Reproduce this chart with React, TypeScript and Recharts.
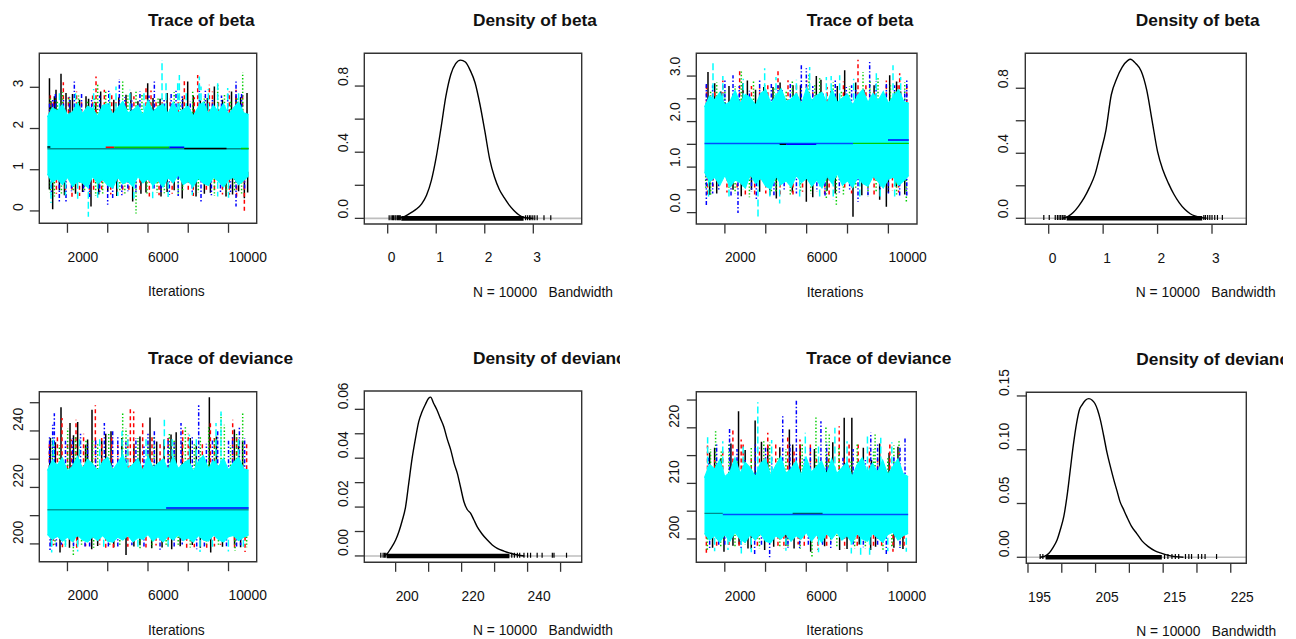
import React from "react";
import {
  Area,
  ComposedChart,
  Line,
  ReferenceArea,
  ReferenceLine,
  Scatter,
  XAxis,
  YAxis,
} from "recharts";

const FONT = '"Liberation Sans", Arial, Helvetica, sans-serif';
const INK = "#111111";
const FRAME = "#333333";

// chain colours / line types as R draws them (col 1:5, lty 1:5)
const chainColors = ["#000000", "#ff0000", "#00cd00", "#0000ff", "#00ffff"];
const chainDash = [undefined, "4 3", "1.4 2", "1.4 2 4 2", "7 3"];

const traceTicks = [2000, 4000, 6000, 8000, 10000];
const traceTickLabels = [2000, 6000, 10000];

// ---- Trace of beta (left) : [iteration, lo, hi] of the solid cyan band
const betaABand = [
  [1001, 0.9, 2.28], [1250, 0.7, 2.5], [1500, 0.78, 2.43], [1750, 0.64, 2.58], [2000, 0.82, 2.32],
  [2250, 0.6, 2.4], [2500, 0.72, 2.62], [2750, 0.68, 2.36], [3000, 0.58, 2.54], [3250, 0.84, 2.48],
  [3500, 0.66, 2.3], [3750, 0.76, 2.56], [4000, 0.62, 2.6], [4250, 0.56, 2.34], [4500, 0.82, 2.5],
  [4750, 0.66, 2.66], [5000, 0.72, 2.38], [5250, 0.6, 2.44], [5500, 0.84, 2.56], [5750, 0.68, 2.32],
  [6000, 0.78, 2.68], [6250, 0.62, 2.4], [6500, 0.74, 2.52], [6750, 0.58, 2.58], [7000, 0.82, 2.36],
  [7250, 0.68, 2.64], [7500, 0.88, 2.38], [7750, 0.64, 2.46], [8000, 0.72, 2.54], [8250, 0.59, 2.3],
  [8500, 0.8, 2.52], [8750, 0.67, 2.64], [9000, 0.62, 2.36], [9250, 0.82, 2.56], [9500, 0.72, 2.4],
  [9750, 0.58, 2.6], [10000, 0.76, 2.34], [10250, 0.82, 2.5], [10500, 0.64, 2.64], [10750, 0.74, 2.38],
  [11000, 0.86, 2.34],
];
// excursions outside the band per chain: [iteration, value]
const betaABlack = [
  [1106, 3.22], [1431, 2.94], [1679, 3.33], [1927, 2.86], [2126, 2.69], [2921, 2.78], [4908, 2.82],
  [5985, 3.1], [7723, 2.73], [7972, 3.14], [9297, 3.02], [10373, 2.78], [10919, 2.86], [1180, 2.66],
  [2600, 2.7], [3400, 2.64], [4300, 2.7], [5500, 2.66], [6600, 2.72], [8600, 2.68], [9700, 2.7],
  [1350, 2.78], [2250, 2.84], [3050, 2.72], [3650, 2.9], [4550, 2.76], [5150, 2.88], [6250, 2.74],
  [6950, 2.86], [8250, 2.8], [8950, 2.74], [10150, 2.9], [10600, 2.76],
  [1265, 0.04], [3169, 0.11], [5239, 0.23], [6647, 0.35], [8386, 0.35], [9876, 0.35], [10787, 0.31],
  [1600, 0.5], [2400, 0.42], [4000, 0.48], [5900, 0.45], [7300, 0.5], [9100, 0.44], [10500, 0.48],
  [1100, 0.52], [1850, 0.38], [2750, 0.46], [3550, 0.4], [4450, 0.36], [5650, 0.42], [6950, 0.46],
  [7700, 0.3], [8800, 0.42], [10200, 0.4], [10950, 0.45],
];
const betaARed = [
  [1795, 3.12], [3418, 3.26], [3832, 2.94], [4411, 2.69], [5902, 3.02], [7806, 3.22], [8469, 3.3],
  [9048, 3.06], [10042, 2.9], [10373, 2.94], [1300, 2.7], [2700, 2.66], [4900, 2.72], [6400, 2.68],
  [7100, 2.72], [9500, 2.66], [1150, 2.84], [2050, 2.76], [2450, 2.9], [3250, 2.8], [4200, 2.86],
  [5300, 2.78], [6150, 2.92], [6700, 2.74], [7500, 2.84], [8300, 2.76], [9200, 2.9], [10700, 2.8],
  [3087, 0.35], [2225, 0.27], [4743, 0.43], [10042, 0.39], [10787, -0.02], [6067, 0.35], [1900, 0.5],
  [3700, 0.52], [5600, 0.46], [8000, 0.48], [9300, 0.5], [1450, 0.42], [2600, 0.36], [3300, 0.48],
  [4150, 0.4], [5050, 0.44], [6550, 0.38], [7200, 0.42], [8250, 0.36], [8900, 0.46], [9700, 0.4],
  [10400, 0.34],
];
const betaAGreen = [
  [2093, 2.78], [3501, 3.06], [4743, 3.18], [5405, 2.94], [8220, 2.94], [9462, 3.1], [10704, 3.36],
  [1500, 2.7], [3000, 2.68], [4100, 2.66], [6100, 2.7], [7600, 2.64], [10100, 2.7], [1150, 2.76],
  [1750, 2.88], [2550, 2.8], [3350, 2.74], [3900, 2.9], [5000, 2.8], [5700, 2.86], [6500, 2.76],
  [7300, 2.88], [8800, 2.78], [9800, 2.84], [10450, 2.74],
  [5405, -0.06], [3749, 0.39], [7723, 0.47], [1348, 0.35], [6813, 0.43], [2300, 0.48], [4600, 0.5],
  [8500, 0.45], [10300, 0.5], [1150, 0.44], [1700, 0.4], [2850, 0.46], [3400, 0.36], [4850, 0.42],
  [5950, 0.38], [6450, 0.44], [7500, 0.4], [9300, 0.36], [9900, 0.44], [10650, 0.4],
];
const betaABlue = [
  [1265, 2.69], [2341, 3.14], [4577, 3.2], [6316, 3.14], [7392, 2.94], [8551, 3.06], [9959, 2.86],
  [10373, 3.14], [1110, 2.6], [1800, 2.7], [3200, 2.72], [5200, 2.68], [6800, 2.7], [8100, 2.66],
  [9200, 2.72], [1400, 2.84], [2100, 2.76], [2700, 2.88], [3600, 2.8], [4050, 2.92], [4850, 2.76],
  [5600, 2.9], [6050, 2.8], [7150, 2.86], [7700, 2.78], [8850, 2.92], [9650, 2.8], [10650, 2.86],
  [1596, 0.23], [3997, 0.15], [4246, 0.31], [8634, 0.19], [10373, 0.11], [7061, 0.39], [1927, 0.19],
  [2800, 0.45], [5000, 0.48], [6300, 0.5], [9600, 0.46], [10800, 0.5], [1200, 0.4], [2200, 0.48],
  [3100, 0.34], [3600, 0.44], [4700, 0.38], [5400, 0.46], [6650, 0.42], [7500, 0.36], [8200, 0.44],
  [9150, 0.38], [10100, 0.46],
];
const betaACyan = [
  [6697, 3.66], [4411, 3.02], [6895, 3.1], [7475, 3.14], [7558, 3.3], [8634, 3.02], [8551, 3.26],
  [9462, 3.1], [9959, 2.98], [1600, 2.92], [2400, 2.86], [3300, 2.96], [4100, 2.9], [5100, 2.94],
  [5800, 2.88], [7900, 2.92], [9000, 2.96], [10500, 2.9],
  [3037, -0.14], [1182, 0.19], [2507, 0.27], [6233, 0.31], [9462, 0.35], [1900, 0.38], [3500, 0.32],
  [4500, 0.36], [5300, 0.3], [7000, 0.34], [8200, 0.38], [10000, 0.32],
];
// smoothed chain lines: [chain, from, to, value, opacity]
const betaASmooth = [
  [0, 1001, 11000, 1.51, 0.45], [0, 1001, 1150, 1.55, 1], [1, 3900, 4330, 1.546, 1],
  [2, 4330, 7060, 1.546, 1], [3, 7060, 7800, 1.546, 1], [0, 7800, 9900, 1.515, 1],
  [2, 10620, 11000, 1.515, 1],
];

// ---- Trace of deviance (left)
const devABand = [
  [1001, 203.4, 226.0], [1250, 201.6, 229.5], [1500, 202.8, 227.9], [1750, 201.0, 230.5],
  [2000, 202.4, 225.7], [2250, 200.8, 227.5], [2500, 203.2, 231.0], [2750, 201.4, 226.7],
  [3000, 200.7, 229.9], [3250, 202.6, 228.3], [3500, 201.2, 225.9], [3750, 203.0, 229.1],
  [4000, 201.0, 230.7], [4250, 200.6, 226.1], [4500, 202.4, 228.7], [4750, 201.4, 231.5],
  [5000, 203.0, 226.5], [5250, 200.8, 228.1], [5500, 202.2, 230.1], [5750, 201.6, 225.9],
  [6000, 203.4, 231.1], [6250, 201.0, 226.9], [6500, 202.6, 228.5], [6750, 200.7, 230.1],
  [7000, 202.8, 226.3], [7250, 201.4, 230.9], [7500, 203.2, 226.7], [7750, 201.2, 228.3],
  [8000, 202.2, 229.7], [8250, 200.6, 225.7], [8500, 203.0, 229.1], [8750, 201.4, 231.3],
  [9000, 201.0, 226.5], [9250, 203.2, 229.5], [9500, 201.6, 227.3], [9750, 200.7, 230.3],
  [10000, 202.6, 226.1], [10250, 203.0, 228.9], [10500, 201.2, 230.7], [10750, 202.4, 226.5],
  [11000, 203.2, 226.1],
];
const devABlack = [
  [1120, 234.0], [1679, 248.4], [2126, 242.8], [2507, 243.2], [3219, 247.5], [4163, 239.9],
  [6100, 244.8], [6432, 236.3], [7144, 238.7], [9048, 251.9], [10290, 240.5], [1400, 236],
  [2900, 235], [3700, 236.5], [5300, 235.5], [7700, 236], [8400, 235], [10700, 236.5],
  [1150, 237.5], [2300, 238.5], [3000, 237], [3900, 239], [4700, 237.5], [5600, 238], [6800, 237],
  [7400, 239.5], [8100, 237.5], [9400, 238], [10500, 237],
  [1630, 197.0], [4909, 196.1], [7177, 198.1], [9115, 197.0], [3203, 198.1], [6184, 198.5],
  [2500, 199.8], [5600, 199.5], [8200, 199.6], [10300, 199.8], [1200, 199.2], [2100, 198.6],
  [3500, 199.3], [4300, 198.8], [5300, 199.1], [6700, 198.7], [7600, 199.2], [8600, 198.6],
  [9700, 199], [10600, 198.8],
];
const devARed = [
  [1729, 244.6], [2424, 244.0], [3385, 249.1], [5123, 248.4], [5289, 246.9], [5736, 243.4],
  [7723, 241.0], [9098, 243.4], [10207, 244.0], [1100, 235.5], [2000, 236], [4500, 235],
  [6600, 236], [8700, 235.5], [10900, 236], [1500, 238], [2200, 237], [2800, 239], [3700, 237.5],
  [4200, 238.5], [5000, 237], [6200, 238.5], [7000, 237.5], [8000, 239], [9300, 237.5],
  [10400, 238.5],
  [4279, 198.1], [10821, 197.1], [8916, 197.9], [2458, 198.5], [7922, 198.5], [1300, 199.5],
  [3600, 199.8], [6400, 199.4], [9600, 199.7], [1750, 198.8], [2900, 199.2], [3900, 198.6],
  [5000, 199], [5900, 198.7], [7000, 199.2], [8300, 198.8], [9300, 199.1], [10300, 198.6],
];
const devAGreen = [
  [2010, 241.0], [2921, 236.9], [4743, 246.9], [4908, 241.0], [7061, 239.3], [7856, 241.6],
  [9015, 241.3], [9628, 245.8], [9793, 242.2], [10704, 246.9], [1600, 235], [3500, 236],
  [6000, 235.5], [8300, 236], [10100, 235], [1250, 237.5], [2400, 238.5], [3250, 237],
  [4050, 239], [5500, 237.5], [6300, 238], [7300, 237], [8600, 238.5], [9300, 237.5], [10400, 239],
  [2292, 196.1], [10324, 197.6], [5604, 198.5], [1381, 199.1], [4100, 199.6], [7500, 199.5],
  [8900, 199.8], [1900, 198.9], [2700, 199.3], [3300, 198.6], [4600, 199], [6200, 198.8],
  [6900, 199.2], [8100, 198.7], [9500, 199.1], [10900, 198.8],
];
const devABlue = [
  [1265, 242.2], [1348, 246.3], [3832, 242.8], [4246, 240.4], [6316, 240.4], [7640, 242.8],
  [8518, 249.1], [9462, 239.9], [10539, 241.6], [1900, 236.5], [3000, 235.5], [4900, 236],
  [5800, 235], [7300, 236], [8900, 235.5], [10000, 236.5], [1110, 238], [2250, 237.5],
  [2650, 239], [3400, 237], [4500, 238.5], [5400, 237.5], [6000, 239], [7000, 237.5], [8200, 238],
  [9200, 237], [10200, 238.5], [10800, 237.5],
  [1133, 197.4], [4031, 198.5], [6598, 197.9], [8419, 198.1], [2872, 199.1], [1700, 199.7],
  [5200, 199.5], [7700, 199.8], [10600, 199.5], [1450, 198.8], [2300, 199.2], [3100, 198.7],
  [4500, 199], [5800, 198.6], [7300, 199.1], [8800, 198.8], [9900, 199.2], [10400, 198.6],
];
const devACyan = [
  [4709, 239.9], [5902, 237.5], [6813, 244.0], [8055, 238.7], [9379, 242.8], [9628, 246.9],
  [1300, 237], [2600, 238], [3600, 237.5], [5000, 238.5], [7200, 238], [8400, 237.5], [10500, 238],
  [1216, 197.0], [2507, 197.3], [8585, 197.1], [9993, 197.3], [10738, 197.9], [1900, 198.5],
  [3800, 198.2], [5500, 198.6], [7000, 198.4], [9200, 198.6],
];
const devASmooth = [
  [0, 1001, 11000, 212.1, 0.4], [3, 6900, 11000, 212.7, 1],
];

// ---- Trace of beta (right)
const betaBBand = [
  [1001, 0.9, 2.32], [1250, 0.68, 2.56], [1500, 0.78, 2.48], [1750, 0.6, 2.64], [2000, 0.82, 2.36],
  [2250, 0.56, 2.44], [2500, 0.72, 2.68], [2750, 0.66, 2.4], [3000, 0.54, 2.6], [3250, 0.84, 2.52],
  [3500, 0.64, 2.36], [3750, 0.76, 2.62], [4000, 0.58, 2.7], [4250, 0.52, 2.4], [4500, 0.8, 2.56],
  [4750, 0.62, 2.72], [5000, 0.7, 2.44], [5250, 0.56, 2.5], [5500, 0.82, 2.62], [5750, 0.66, 2.38],
  [6000, 0.76, 2.74], [6250, 0.58, 2.46], [6500, 0.72, 2.58], [6750, 0.54, 2.64], [7000, 0.8, 2.4],
  [7250, 0.64, 2.7], [7500, 0.86, 2.42], [7750, 0.6, 2.52], [8000, 0.7, 2.6], [8250, 0.55, 2.36],
  [8500, 0.78, 2.58], [8750, 0.64, 2.7], [9000, 0.58, 2.42], [9250, 0.8, 2.62], [9500, 0.68, 2.46],
  [9750, 0.54, 2.66], [10000, 0.74, 2.4], [10250, 0.78, 2.56], [10500, 0.6, 2.7], [10750, 0.7, 2.44],
  [11000, 0.82, 2.4],
];
const betaBBlack = [
  [1173, 3.09], [2886, 2.84], [4354, 2.76], [5333, 2.8], [6474, 3.0], [7861, 3.13], [10063, 3.02],
  [1800, 2.66], [3500, 2.7], [6000, 2.64], [7200, 2.68], [8800, 2.7], [10600, 2.66], [1500, 2.84],
  [2200, 2.78], [3100, 2.9], [3900, 2.76], [4700, 2.86], [5700, 2.8], [6700, 2.92], [7500, 2.78],
  [8400, 2.86], [9300, 2.8], [10400, 2.88],
  [1255, 0.39], [2397, 0.5], [4517, 0.31], [5985, 0.24], [8268, -0.09], [9573, 0.28], [9900, 0.13],
  [10389, 0.57], [3300, 0.5], [7000, 0.48], [1600, 0.42], [2800, 0.36], [3700, 0.46], [4200, 0.38],
  [5300, 0.44], [6300, 0.34], [7400, 0.42], [8700, 0.38], [10000, 0.44], [10800, 0.4],
];
const betaBRed = [
  [2723, 3.17], [3702, 2.73], [4599, 3.13], [5088, 2.91], [7290, 2.62], [8513, 3.36], [10470, 2.87],
  [10552, 3.06], [1500, 2.68], [6300, 2.66], [9300, 2.7], [1100, 2.8], [1900, 2.9], [3300, 2.78],
  [4100, 2.86], [5500, 2.8], [6000, 2.9], [7000, 2.76], [7800, 2.88], [8900, 2.8], [9900, 2.9],
  [10900, 2.78],
  [1418, 0.57], [3457, 0.35], [5333, 0.35], [6882, 0.41], [7861, 0.5], [2600, 0.52], [9000, 0.5],
  [10200, 0.48], [1150, 0.4], [2100, 0.44], [3000, 0.36], [4000, 0.42], [4700, 0.38], [5800, 0.46],
  [7100, 0.36], [8200, 0.42], [9300, 0.38], [10500, 0.44],
];
const betaBGreen = [
  [2804, 3.13], [3946, 2.84], [6115, 3.06], [6637, 2.98], [8758, 3.09], [9492, 2.98], [1300, 2.7],
  [2000, 2.66], [5000, 2.68], [7700, 2.7], [10300, 2.66], [1600, 2.86], [2500, 2.78], [3400, 2.88],
  [4400, 2.76], [5300, 2.9], [6400, 2.8], [7300, 2.86], [8100, 2.78], [9100, 2.92], [10100, 2.8],
  [10800, 2.86],
  [1060, 0.5], [4272, 0.43], [6964, 0.31], [7453, 0.13], [9002, 0.35], [10878, 0.2], [2200, 0.5],
  [5700, 0.48], [8400, 0.5], [1300, 0.38], [2500, 0.42], [3200, 0.34], [4500, 0.44], [5200, 0.38],
  [6200, 0.42], [7800, 0.36], [9400, 0.44], [10400, 0.38],
];
const betaBBlue = [
  [1092, 2.87], [2397, 3.02], [4272, 2.87], [5740, 3.28], [5985, 3.17], [7942, 2.76], [9084, 3.31],
  [9900, 2.84], [3200, 2.68], [4800, 2.7], [6800, 2.66], [8400, 2.72], [10800, 2.68], [1400, 2.8],
  [2000, 2.9], [2700, 2.78], [3700, 2.92], [4600, 2.8], [5200, 2.86], [6300, 2.78], [7400, 2.9],
  [8200, 2.8], [9400, 2.88], [10300, 2.8], [10900, 2.9],
  [1092, 0.17], [2641, -0.01], [3539, 0.28], [8105, 0.5], [8513, 0.24], [10552, 0.35], [1700, 0.48],
  [4900, 0.5], [6500, 0.46], [9600, 0.48], [1400, 0.42], [2300, 0.36], [3300, 0.46], [4400, 0.38],
  [5500, 0.42], [6900, 0.36], [7600, 0.44], [9000, 0.38], [10000, 0.42], [10900, 0.36],
];
const betaBCyan = [
  [1418, 3.35], [3946, 3.17], [6148, 3.2], [6964, 2.98], [7616, 3.02], [9410, 3.13], [10226, 3.24],
  [1900, 3.0], [2900, 2.94], [4500, 2.98], [5500, 2.92], [7200, 3.0], [8300, 2.94], [10600, 2.98],
  [2886, 0.5], [3620, -0.09], [4680, 0.2], [5659, 0.35], [6637, 0.31], [10307, 0.35], [1200, 0.34],
  [2200, 0.3], [4200, 0.32], [7300, 0.28], [8600, 0.34], [9600, 0.3],
];
const betaBSmooth = [
  [3, 1001, 8270, 1.52, 0.7], [0, 4680, 5010, 1.5, 1], [3, 5010, 6470, 1.5, 1],
  [2, 8270, 11000, 1.522, 1], [3, 9980, 11000, 1.594, 1],
];

// ---- Trace of deviance (right)
const devBBand = [
  [1001, 201.0, 211.0], [1250, 199.8, 213.4], [1500, 200.6, 212.6], [1750, 199.4, 214.2],
  [2000, 200.8, 211.2], [2250, 199.6, 212.0], [2500, 201.2, 214.6], [2750, 200.0, 211.8],
  [3000, 199.4, 213.8], [3250, 200.8, 212.8], [3500, 199.8, 211.2], [3750, 201.0, 213.6],
  [4000, 199.6, 214.4], [4250, 199.3, 211.4], [4500, 200.6, 213.2], [4750, 200.0, 214.8],
  [5000, 201.0, 211.8], [5250, 199.6, 212.6], [5500, 200.6, 214.0], [5750, 200.0, 211.4],
  [6000, 201.2, 214.6], [6250, 199.6, 212.0], [6500, 200.8, 213.0], [6750, 199.4, 214.0],
  [7000, 201.0, 211.6], [7250, 200.0, 214.4], [7500, 201.2, 211.8], [7750, 199.8, 212.8],
  [8000, 200.6, 213.8], [8250, 199.3, 211.2], [8500, 201.0, 213.4], [8750, 200.0, 214.6],
  [9000, 199.6, 211.8], [9250, 201.0, 213.6], [9500, 200.2, 212.0], [9750, 199.4, 214.2],
  [10000, 200.8, 211.6], [10250, 201.2, 213.0], [10500, 199.8, 214.4], [10750, 200.6, 211.8],
  [11000, 201.0, 211.2],
];
const devBBlack = [
  [1255, 215.5], [2674, 223.0], [3489, 221.3], [4109, 216.7], [5169, 219.7], [5333, 217.0],
  [7861, 221.8], [8236, 221.8], [10063, 215.5], [1800, 214.5], [6000, 214], [7000, 214.8],
  [9200, 214.2], [1500, 216.4], [2300, 217.2], [3000, 216], [3800, 217.5], [4700, 216.5],
  [5700, 217], [6400, 216.2], [7300, 217.4], [8800, 216.4], [9600, 217.2], [10500, 216.6],
  [1960, 197.7], [3138, 198.3], [3956, 198.0], [6214, 197.7], [7637, 198.0], [9158, 198.0],
  [10745, 198.2], [2700, 199], [5000, 198.8], [8600, 199], [1400, 198.4], [2400, 198.8],
  [3300, 198.2], [4400, 198.6], [5400, 198.3], [6900, 198.7], [8000, 198.2], [9400, 198.6],
  [10300, 198.4],
];
const devBRed = [
  [2397, 220.0], [2804, 217.9], [4109, 219.1], [5088, 218.5], [5691, 217.9], [7616, 220.3],
  [7861, 214.6], [8546, 217.0], [10552, 216.4], [1500, 214.2], [3300, 214.8], [6500, 214.4],
  [9500, 214.6], [1150, 216.8], [1900, 216], [2900, 217.4], [3700, 216.4], [4500, 217],
  [5400, 216.2], [6200, 217.2], [7100, 216.4], [8100, 217], [9100, 216.4], [10100, 217.3],
  [1094, 197.4], [4610, 198.3], [6574, 198.0], [7882, 198.2], [10255, 197.7], [2200, 198.9],
  [5600, 199], [9300, 198.8], [1600, 198.6], [2700, 198.3], [3600, 198.7], [4900, 198.2],
  [5900, 198.6], [7000, 198.4], [8500, 198.7], [9700, 198.3], [10800, 198.6],
];
const devBGreen = [
  [1549, 219.4], [1826, 215.8], [3914, 217.9], [6474, 222.1], [6964, 220.3], [7127, 218.8],
  [9378, 219.1], [10552, 217.9], [2600, 214.4], [4600, 214.8], [8200, 214.2], [10000, 214.6],
  [1300, 216.2], [2200, 217], [3300, 216.4], [4200, 217.4], [5000, 216.2], [5800, 217],
  [7600, 216.6], [8500, 217.3], [9300, 216.2], [10300, 216.8],
  [1142, 198.0], [5101, 198.6], [6279, 196.8], [8373, 198.3], [9764, 198.0], [3000, 198.9],
  [7200, 199], [10600, 198.8], [1800, 198.4], [2500, 198.7], [3700, 198.3], [4700, 198.6],
  [5700, 198.2], [7500, 198.6], [8900, 198.3], [10200, 198.6],
];
const devBBlue = [
  [2234, 219.8], [4843, 222.4], [5512, 225.2], [6719, 221.2], [9166, 219.1], [10846, 218.3],
  [1200, 214.6], [3000, 214.2], [4300, 214.8], [5900, 214.4], [7800, 214.6], [8900, 214.2],
  [10300, 214.8], [1600, 217], [2600, 216.2], [3500, 217.2], [4000, 216.4], [5200, 217],
  [6200, 216.4], [7000, 217.4], [8300, 216.2], [9500, 217], [10600, 216.4],
  [1257, 198.0], [3465, 197.1], [4201, 196.7], [5674, 198.0], [9927, 197.1], [2000, 198.9],
  [6800, 198.8], [8300, 199], [1700, 198.6], [2800, 198.2], [3800, 198.6], [5100, 198.4],
  [6100, 198.7], [7200, 198.2], [8800, 198.5], [9500, 198.7], [10600, 198.3],
];
const devBCyan = [
  [1157, 218.3], [3620, 224.6], [5952, 219.1], [7404, 220.0], [9002, 218.8], [9655, 218.2],
  [1900, 217.6], [2900, 217], [4300, 217.8], [6600, 217.2], [8000, 217.6], [10200, 217.4],
  [2156, 198.0], [2811, 197.4], [8210, 197.4], [8668, 196.9], [9109, 196.8], [10909, 197.7],
  [1500, 197.8], [3300, 197.6], [5000, 197.9], [6600, 197.6], [10000, 197.8],
];
const devBSmooth = [
  [0, 1001, 1900, 204.6, 0.45], [3, 1900, 11000, 204.4, 0.7], [0, 5330, 6800, 204.6, 0.6],
];

// ---- densities: [x, density]
const betaADensity = [
  [0.2, 0], [0.3, 0.006], [0.4, 0.02], [0.5, 0.038], [0.6, 0.058], [0.7, 0.088], [0.8, 0.14],
  [0.9, 0.23], [1.0, 0.37], [1.1, 0.55], [1.2, 0.74], [1.3, 0.87], [1.4, 0.935], [1.5, 0.957],
  [1.6, 0.945], [1.7, 0.895], [1.8, 0.82], [1.9, 0.69], [2.0, 0.53], [2.1, 0.36], [2.2, 0.25],
  [2.3, 0.175], [2.4, 0.125], [2.5, 0.082], [2.6, 0.048], [2.7, 0.022], [2.8, 0.007], [2.9, 0.002],
  [3.0, 0],
];
const betaARugCore = [0.28, 2.8];
const betaARugTicks = [
  0.03, 0.07, 0.1, 0.12, 0.15, 0.17, 0.2, 0.22, 0.24, 0.26, 2.84, 2.88, 2.92, 2.95, 2.99, 3.03,
  3.08, 3.22, 3.36,
];

const devADensity = [
  [196.5, 0], [197.5, 0.001], [198.5, 0.003], [200, 0.0065], [201, 0.01], [202, 0.0145],
  [203, 0.02], [204, 0.03], [205, 0.04], [206, 0.048], [207, 0.055], [208, 0.059], [209, 0.062],
  [210, 0.0645], [210.6, 0.065], [211.5, 0.0625], [212.5, 0.0598], [213.5, 0.0565],
  [214.6, 0.0529], [215.6, 0.048], [216.7, 0.0434], [217.7, 0.038], [218.7, 0.0338],
  [219.7, 0.028], [220.7, 0.0222], [221.7, 0.019], [222.7, 0.0175], [223.7, 0.0148],
  [224.7, 0.012], [226.2, 0.009], [227.8, 0.0065], [229.3, 0.0045], [230.8, 0.0031],
  [232.8, 0.002], [234.8, 0.0011], [237, 0.0004], [239, 0],
];
const devARugCore = [197.3, 234.5];
const devARugTicks = [
  195.5, 196.2, 196.6, 197.0, 235.2, 236.0, 236.9, 237.6, 238.9, 240.0, 240.9, 242.9, 244.4,
  247.5, 248.0, 251.8,
];

const betaBDensity = [
  [0.25, 0], [0.35, 0.01], [0.45, 0.035], [0.55, 0.075], [0.65, 0.125], [0.75, 0.19],
  [0.85, 0.27], [0.95, 0.4], [1.05, 0.54], [1.15, 0.76], [1.25, 0.86], [1.35, 0.93], [1.45, 0.97],
  [1.5, 0.978], [1.6, 0.952], [1.7, 0.905], [1.8, 0.79], [1.9, 0.6], [2.0, 0.41], [2.1, 0.295],
  [2.2, 0.215], [2.3, 0.148], [2.4, 0.095], [2.5, 0.055], [2.6, 0.028], [2.7, 0.013], [2.8, 0.004],
  [2.9, 0],
];
const betaBRugCore = [0.33, 2.82];
const betaBRugTicks = [
  -0.09, 0.01, 0.12, 0.16, 0.19, 0.22, 0.25, 0.28, 0.3, 2.85, 2.88, 2.92, 2.96, 3.0, 3.05, 3.1,
  3.19,
];

const devBDensity = [
  [196.8, 0], [197.5, 0.001], [198.1, 0.0037], [198.7, 0.009], [199.3, 0.016], [199.8, 0.026],
  [200.3, 0.038], [200.8, 0.058], [201.25, 0.081], [201.7, 0.104], [202.2, 0.125], [202.6, 0.137],
  [203.0, 0.1417], [203.5, 0.146], [204.0, 0.1475], [204.5, 0.146], [204.9, 0.143], [205.3, 0.137],
  [205.7, 0.128], [206.2, 0.113], [206.7, 0.097], [207.2, 0.084], [207.7, 0.072], [208.2, 0.061],
  [208.6, 0.052], [209.1, 0.045], [209.6, 0.038], [210.3, 0.029], [211.1, 0.022], [211.9, 0.015],
  [212.8, 0.0099], [213.8, 0.006], [214.8, 0.0037], [215.8, 0.0018], [216.8, 0.0006], [218, 0],
];
const devBRugCore = [197.6, 214.8];
const devBRugTicks = [
  196.8, 197.2, 215.2, 215.7, 216.3, 216.8, 217.3, 218.3, 218.8, 219.2, 220.2, 220.7, 221.2, 222.9,
];

type Box = { left: number; right: number; top: number; bottom: number };

type Frame = {
  width: number;
  height: number;
  box: Box;
  xDom: [number, number];
  yDom: [number, number];
  xTicks: number[];
  xLabels: number[];
  xFmt: (v: number) => string;
  yTicks: number[];
  yLabels: number[];
  yFmt: (v: number) => string;
  yLabelX: number;
  title: string;
  xlab: string;
};

const isIn = (list: number[], v: number) => list.some((l) => Math.abs(l - v) < 1e-9);

function frameParts(f: Frame) {
  const cx = (f.box.left + f.box.right) / 2;
  const xBase = f.box.bottom + 38.4;
  return [
    <XAxis
      key="xa"
      type="number"
      dataKey="x"
      domain={f.xDom}
      ticks={f.xTicks}
      interval={0}
      allowDataOverflow
      axisLine={false}
      tickSize={9.5}
      tickLine={{ stroke: FRAME, strokeWidth: 1.3 }}
      height={f.height - f.box.bottom}
      tick={(p: any) =>
        isIn(f.xLabels, p.payload.value) ? (
          <text x={p.x} y={xBase} textAnchor="start" fontSize={13.8} fontFamily={FONT} fill={INK}>
            {f.xFmt(p.payload.value)}
          </text>
        ) : (
          <g />
        )
      }
    />,
    <YAxis
      key="ya"
      type="number"
      dataKey="y"
      domain={f.yDom}
      ticks={f.yTicks}
      interval={0}
      allowDataOverflow
      axisLine={false}
      tickSize={9.5}
      tickLine={{ stroke: FRAME, strokeWidth: 1.3 }}
      width={f.box.left}
      tick={(p: any) =>
        isIn(f.yLabels, p.payload.value) ? (
          <text
            x={f.yLabelX}
            y={p.y}
            transform={`rotate(-90 ${f.yLabelX} ${p.y})`}
            textAnchor="start"
            fontSize={13.8}
            fontFamily={FONT}
            fill={INK}
          >
            {f.yFmt(p.payload.value)}
          </text>
        ) : (
          <g />
        )
      }
    />,
    <ReferenceArea
      key="box"
      x1={f.xDom[0]}
      x2={f.xDom[1]}
      y1={f.yDom[0]}
      y2={f.yDom[1]}
      fill="none"
      fillOpacity={0}
      stroke={FRAME}
      strokeWidth={1.4}
      ifOverflow="visible"
    />,
    <text
      key="title"
      x={cx}
      y={f.box.top - 27.4}
      textAnchor="start"
      fontSize={17.3}
      fontWeight={700}
      fontFamily={FONT}
      fill={INK}
    >
      {f.title}
    </text>,
    <text
      key="xlab"
      x={cx}
      y={f.box.bottom + 73}
      textAnchor="start"
      fontSize={13.8}
      fontFamily={FONT}
      fill={INK}
      xmlSpace="preserve"
      style={{ whiteSpace: "pre" }}
    >
      {f.xlab}
    </text>,
  ];
}

// each excursion is a vertical stroke from inside the band out to its value
function spikeData(points: number[][], upBase: number, downBase: number) {
  const mid = (upBase + downBase) / 2;
  const out: { x: number; y: number | null }[] = [];
  points.forEach(([x, v]) => {
    out.push({ x, y: v > mid ? upBase : downBase }, { x, y: v }, { x, y: null });
  });
  return out;
}

function TracePanel(props: {
  left: number;
  top: number;
  frame: Frame;
  band: number[][];
  chains: number[][][];
  upBase: number;
  downBase: number;
  smooth: number[][];
}) {
  const { left, top, frame, band, chains, upBase, downBase, smooth } = props;
  const bandData = band.map(([x, lo, hi]) => ({ x, r: [lo, hi] }));
  return (
    <div style={{ position: "absolute", left, top }}>
      <ComposedChart
        width={frame.width}
        height={frame.height}
        margin={{ top: frame.box.top, right: frame.width - frame.box.right, bottom: 0, left: 0 }}
      >
        {frameParts(frame)}
        {chains.slice(0, 4).map((c, i) => (
          <Line
            key={`c${i}`}
            data={spikeData(c, upBase, downBase)}
            dataKey="y"
            type="linear"
            stroke={chainColors[i]}
            strokeDasharray={chainDash[i]}
            strokeWidth={1.5}
            dot={false}
            activeDot={false}
            connectNulls={false}
            isAnimationActive={false}
            zIndex={20 + i}
          />
        ))}
        <Area
          data={bandData}
          dataKey="r"
          type="linear"
          stroke="#00ffff"
          strokeWidth={1.2}
          fill="#00ffff"
          fillOpacity={1}
          dot={false}
          activeDot={false}
          isAnimationActive={false}
          zIndex={100}
        />
        <Line
          data={spikeData(chains[4], upBase, downBase)}
          dataKey="y"
          type="linear"
          stroke={chainColors[4]}
          strokeDasharray={chainDash[4]}
          strokeWidth={1.5}
          dot={false}
          activeDot={false}
          connectNulls={false}
          isAnimationActive={false}
          zIndex={150}
        />
        {smooth.map(([c, x1, x2, v, o], i) => (
          <Line
            key={`s${i}`}
            data={[{ x: x1, y: v }, { x: x2, y: v }]}
            dataKey="y"
            type="linear"
            stroke={chainColors[c]}
            strokeOpacity={o}
            strokeWidth={1.4}
            dot={false}
            activeDot={false}
            isAnimationActive={false}
            zIndex={160 + i}
          />
        ))}
      </ComposedChart>
    </div>
  );
}

function DensityPanel(props: {
  left: number;
  top: number;
  frame: Frame;
  curve: number[][];
  rugCore: number[];
  rugTicks: number[];
}) {
  const { left, top, frame, curve, rugCore, rugTicks } = props;
  return (
    <div style={{ position: "absolute", left, top }}>
      <ComposedChart
        width={frame.width}
        height={frame.height}
        margin={{ top: frame.box.top, right: frame.width - frame.box.right, bottom: 0, left: 0 }}
      >
        {frameParts(frame)}
        <ReferenceLine y={0} stroke="#bebebe" strokeWidth={1.6} zIndex={10} />
        <Line
          data={curve.map(([x, y]) => ({ x, y }))}
          dataKey="y"
          type="monotone"
          stroke="#000000"
          strokeWidth={1.4}
          dot={false}
          activeDot={false}
          isAnimationActive={false}
          zIndex={30}
        />
        <Line
          data={rugCore.map((x) => ({ x, y: 0 }))}
          dataKey="y"
          type="linear"
          stroke="#000000"
          strokeWidth={4.6}
          dot={false}
          activeDot={false}
          isAnimationActive={false}
          zIndex={40}
        />
        <Scatter
          data={rugTicks.map((x) => ({ x, y: 0 }))}
          fill="#000000"
          isAnimationActive={false}
          zIndex={50}
          shape={(p: any) => (
            <line x1={p.cx} x2={p.cx} y1={p.cy - 3.2} y2={p.cy + 1.8} stroke="#000000" strokeWidth={1.2} />
          )}
        />
      </ComposedChart>
    </div>
  );
}

const intFmt = (v: number) => String(v);
const fix1 = (v: number) => v.toFixed(1);
const fix2 = (v: number) => v.toFixed(2);

const betaAFrame: Frame = {
  width: 324, height: 320,
  box: { left: 39.3, right: 256.7, top: 53.3, bottom: 223.3 },
  xDom: [601, 11400], yDom: [-0.3, 3.825],
  xTicks: traceTicks, xLabels: traceTickLabels, xFmt: intFmt,
  yTicks: [0, 1, 2, 3], yLabels: [0, 1, 2, 3], yFmt: intFmt, yLabelX: 23.5,
  title: "Trace of beta", xlab: "Iterations",
};
const betaADensFrame: Frame = {
  width: 296, height: 320,
  box: { left: 40.3, right: 257.7, top: 53.3, bottom: 224 },
  xDom: [-0.482, 3.997], yDom: [-0.034, 0.998],
  xTicks: [0, 1, 2, 3], xLabels: [0, 1, 2, 3], xFmt: intFmt,
  yTicks: [0, 0.2, 0.4, 0.6, 0.8], yLabels: [0, 0.4, 0.8], yFmt: fix1, yLabelX: 24,
  title: "Density of beta", xlab: "N = 10000   Bandwidth",
};
const devAFrame: Frame = {
  width: 324, height: 319,
  box: { left: 39.3, right: 256.7, top: 71.7, bottom: 241.7 },
  xDom: [601, 11400], yDom: [193.7, 253.9],
  xTicks: traceTicks, xLabels: traceTickLabels, xFmt: intFmt,
  yTicks: [200, 210, 220, 230, 240, 250], yLabels: [200, 220, 240], yFmt: intFmt, yLabelX: 23.5,
  title: "Trace of deviance", xlab: "Iterations",
};
const devADensFrame: Frame = {
  width: 296, height: 319,
  box: { left: 40.3, right: 257.7, top: 71, bottom: 242.3 },
  xDom: [190.5, 256.4], yDom: [-0.0026, 0.0675],
  xTicks: [200, 210, 220, 230, 240, 250], xLabels: [200, 220, 240], xFmt: intFmt,
  yTicks: [0, 0.01, 0.02, 0.03, 0.04, 0.05, 0.06], yLabels: [0, 0.02, 0.04, 0.06], yFmt: fix2,
  yLabelX: 24,
  title: "Density of deviance", xlab: "N = 10000   Bandwidth",
};
const betaBFrame: Frame = {
  width: 324, height: 320,
  box: { left: 48.3, right: 269, top: 53.3, bottom: 224 },
  xDom: [601, 11400], yDom: [-0.25, 3.5],
  xTicks: traceTicks, xLabels: traceTickLabels, xFmt: intFmt,
  yTicks: [0, 0.5, 1, 1.5, 2, 2.5, 3], yLabels: [0, 1, 2, 3], yFmt: fix1, yLabelX: 32,
  title: "Trace of beta", xlab: "Iterations",
};
const betaBDensFrame: Frame = {
  width: 311, height: 320,
  box: { left: 53.3, right: 274.3, top: 53.3, bottom: 224.3 },
  xDom: [-0.43, 3.63], yDom: [-0.037, 1.015],
  xTicks: [0, 1, 2, 3], xLabels: [0, 1, 2, 3], xFmt: intFmt,
  yTicks: [0, 0.2, 0.4, 0.6, 0.8], yLabels: [0, 0.4, 0.8], yFmt: fix1, yLabelX: 36.5,
  title: "Density of beta", xlab: "N = 10000   Bandwidth",
};
const devBFrame: Frame = {
  width: 324, height: 319,
  box: { left: 48.3, right: 268.3, top: 71.7, bottom: 242.3 },
  xDom: [601, 11400], yDom: [195.8, 226.5],
  xTicks: traceTicks, xLabels: traceTickLabels, xFmt: intFmt,
  yTicks: [200, 205, 210, 215, 220, 225], yLabels: [200, 210, 220], yFmt: intFmt, yLabelX: 31.5,
  title: "Trace of deviance", xlab: "Iterations",
};
const devBDensFrame: Frame = {
  width: 311, height: 319,
  box: { left: 54.3, right: 274.3, top: 72.3, bottom: 243.3 },
  xDom: [194.75, 227.3], yDom: [-0.0056, 0.1534],
  xTicks: [195, 200, 205, 210, 215, 220, 225], xLabels: [195, 205, 215, 225], xFmt: intFmt,
  yTicks: [0, 0.05, 0.1, 0.15], yLabels: [0, 0.05, 0.1, 0.15], yFmt: fix2, yLabelX: 37,
  title: "Density of deviance", xlab: "N = 10000   Bandwidth",
};

export default function App() {
  return (
    <div
      style={{
        position: "absolute",
        left: 0,
        top: 0,
        width: 1296,
        height: 639,
        background: "#ffffff",
        overflow: "hidden",
      }}
    >
      <TracePanel
        left={0}
        top={0}
        frame={betaAFrame}
        band={betaABand}
        chains={[betaABlack, betaARed, betaAGreen, betaABlue, betaACyan]}
        upBase={2.2}
        downBase={0.95}
        smooth={betaASmooth}
      />
      <DensityPanel
        left={324}
        top={0}
        frame={betaADensFrame}
        curve={betaADensity}
        rugCore={betaARugCore}
        rugTicks={betaARugTicks}
      />
      <TracePanel
        left={0}
        top={320}
        frame={devAFrame}
        band={devABand}
        chains={[devABlack, devARed, devAGreen, devABlue, devACyan]}
        upBase={224}
        downBase={205}
        smooth={devASmooth}
      />
      <DensityPanel
        left={324}
        top={320}
        frame={devADensFrame}
        curve={devADensity}
        rugCore={devARugCore}
        rugTicks={devARugTicks}
      />
      <TracePanel
        left={648}
        top={0}
        frame={betaBFrame}
        band={betaBBand}
        chains={[betaBBlack, betaBRed, betaBGreen, betaBBlue, betaBCyan]}
        upBase={2.25}
        downBase={0.95}
        smooth={betaBSmooth}
      />
      <DensityPanel
        left={972}
        top={0}
        frame={betaBDensFrame}
        curve={betaBDensity}
        rugCore={betaBRugCore}
        rugTicks={betaBRugTicks}
      />
      <TracePanel
        left={648}
        top={320}
        frame={devBFrame}
        band={devBBand}
        chains={[devBBlack, devBRed, devBGreen, devBBlue, devBCyan]}
        upBase={210}
        downBase={202}
        smooth={devBSmooth}
      />
      <DensityPanel
        left={972}
        top={320}
        frame={devBDensFrame}
        curve={devBDensity}
        rugCore={devBRugCore}
        rugTicks={devBRugTicks}
      />
    </div>
  );
}
